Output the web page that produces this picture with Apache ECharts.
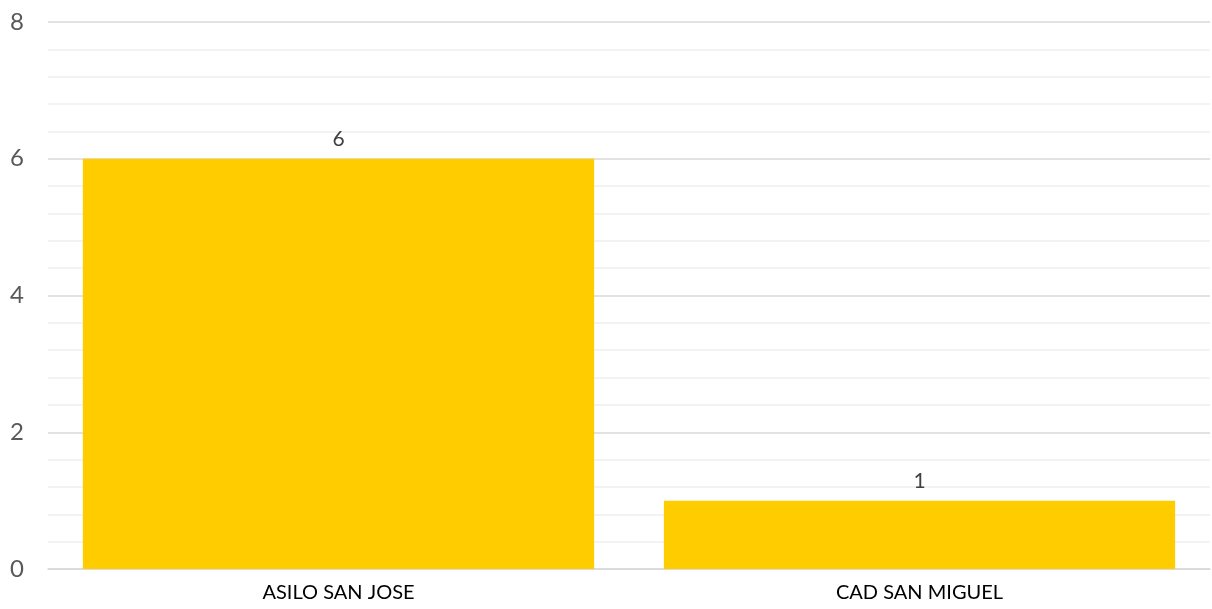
<!DOCTYPE html>
<html>
<head>
<meta charset="utf-8">
<script src="https://cdn.jsdelivr.net/npm/echarts@6/dist/echarts.min.js"></script>
<style>
  html, body { margin: 0; padding: 0; background: #fff; }
  #chart { width: 1212px; height: 609px; }
</style>
</head>
<body>
<div id="chart"></div>
<script>
  // datos
  const categories = ['ASILO SAN JOSE', 'CAD SAN MIGUEL'];
  const values = [6, 1];
  const yMin = 0;
  const yMax = 8;
  const yStep = 2;

  const FONT = 'Lato, "Open Sans", sans-serif';

  const myChart = echarts.init(document.getElementById('chart'));
  const option = {
    animation: false,
    grid: {
      left: 48,
      right: 2,
      top: 22,
      bottom: 40,
      containLabel: false,
    },
    xAxis: {
      type: 'category',
      data: categories,
      axisTick: { show: false },
      axisLine: { lineStyle: { color: '#d9d9d9', width: 1.5 } },
      axisLabel: {
        color: '#000',
        fontSize: 20,
        fontFamily: FONT,
        margin: 14,
      },
    },
    yAxis: {
      type: 'value',
      min: yMin,
      max: yMax,
      interval: yStep,
      axisLine: { show: false },
      axisTick: { show: false },
      axisLabel: {
        color: '#595959',
        fontSize: 24,
        fontFamily: FONT,
        margin: 24,
      },
      splitLine: { lineStyle: { color: '#d9d9d9', width: 1.5 } },
      minorTick: { show: false, splitNumber: 5 },
      minorSplitLine: { show: true, lineStyle: { color: '#f0f0f0', width: 1.5 } },
    },
    series: [
      {
        type: 'bar',
        data: values,
        barCategoryGap: '12%',
        itemStyle: { color: '#FFCC00' },
        label: {
          show: true,
          position: 'top',
          distance: 9,
          color: '#404040',
          fontSize: 21,
          fontFamily: FONT,
        },
      },
    ],
  };
  myChart.setOption(option);
</script>
</body>
</html>
